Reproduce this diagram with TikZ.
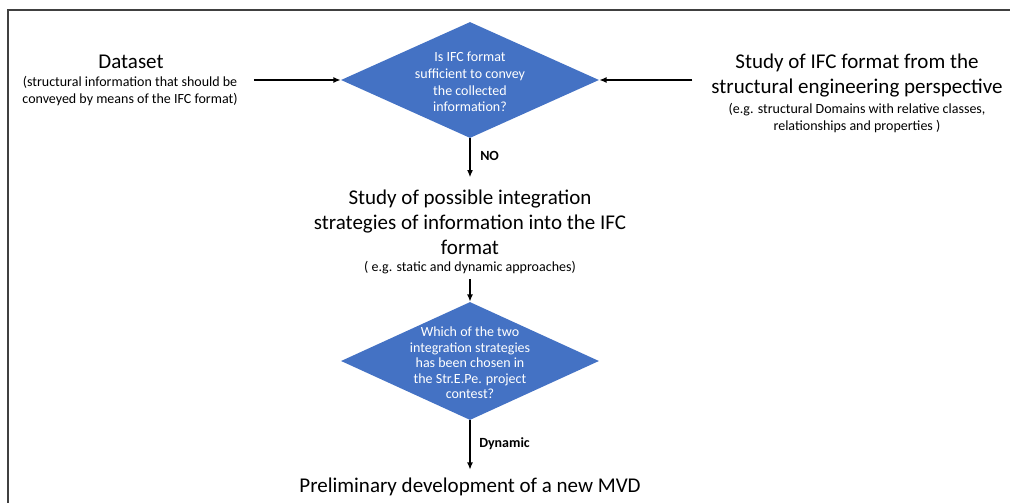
\documentclass[tikz,border=0pt]{standalone}
\usepackage{fontspec}
\setmainfont{Carlito}
\usetikzlibrary{shapes.geometric,arrows.meta}
\definecolor{dblue}{HTML}{4472C4}
\definecolor{frame}{HTML}{404040}
\begin{document}
\begin{tikzpicture}[x=0.75pt,y=-0.75pt,
  big/.style={inner sep=0pt, align=center, font=\fontsize{15.75pt}{18.75pt}\selectfont},
  small/.style={inner sep=0pt, align=center, font=\fontsize{10.5pt}{12.75pt}\selectfont},
  dia/.style={diamond, fill=dblue, draw=none, inner sep=0pt, minimum width=193.5pt, minimum height=87pt},
  dtext/.style={inner sep=0pt, align=center, text=white, font=\fontsize{10.5pt}{12.6pt}\selectfont},
  lab/.style={inner sep=0pt, anchor=west, font=\fontsize{10.5pt}{12pt}\selectfont\bfseries},
  arr/.style={-{Latex[length=5.5pt,width=4.5pt]}, line width=1.1pt, black}]
\useasboundingbox (0,0) rectangle (1010,503);
\draw[frame, line width=1.1pt] (8,503) -- (8,10) -- (1010,10);

\node[big] (dtitle) at (131,62) {Dataset};
\node[small] (dsub) at (130,91) {(structural information that should be\\conveyed by means of the IFC format)};
\node[big] (rtitle) at (857,75.5) {Study of IFC format from the\\structural engineering perspective};
\node[small] (rsub) at (857,118) {(e.g. structural Domains with relative classes,\\relationships and properties )};

\node[dia] (d1) at (470,80) {};
\node[dtext] (d1t) at (470,82) {Is IFC format\\sufficient to convey\\the collected\\information?};

\node[big] (mid) at (470,222) {Study of possible integration\\strategies of information into the IFC\\format};
\node[small] (midsub) at (470,268) {( e.g. static and dynamic approaches)};

\node[dia, minimum height=88.5pt] (d2) at (470,361) {};
\node[dtext, font=\fontsize{10.5pt}{11.6pt}\selectfont] (d2t) at (470,363) {Which of the two\\integration strategies\\has been chosen in\\the Str.E.Pe. project\\contest?};

\node[big] (fin) at (470,487) {Preliminary development of a new MVD};

\draw[arr, shorten <=12pt] (dsub.east |- d1.west) -- (d1.west);
\draw[arr, shorten <=14pt] (rtitle.west |- d1.east) -- (d1.east);
\draw[arr, shorten >=9pt] (d1.south) -- (mid.north);
\node[lab] (no) at (480,156) {NO};
\draw[arr, shorten <=3.4pt] (midsub.south) -- (d2.north);
\draw[arr, shorten >=6pt] (d2.south) -- (fin.north);
\node[lab] (dyn) at (479,444) {Dynamic};
\end{tikzpicture}
\end{document}
